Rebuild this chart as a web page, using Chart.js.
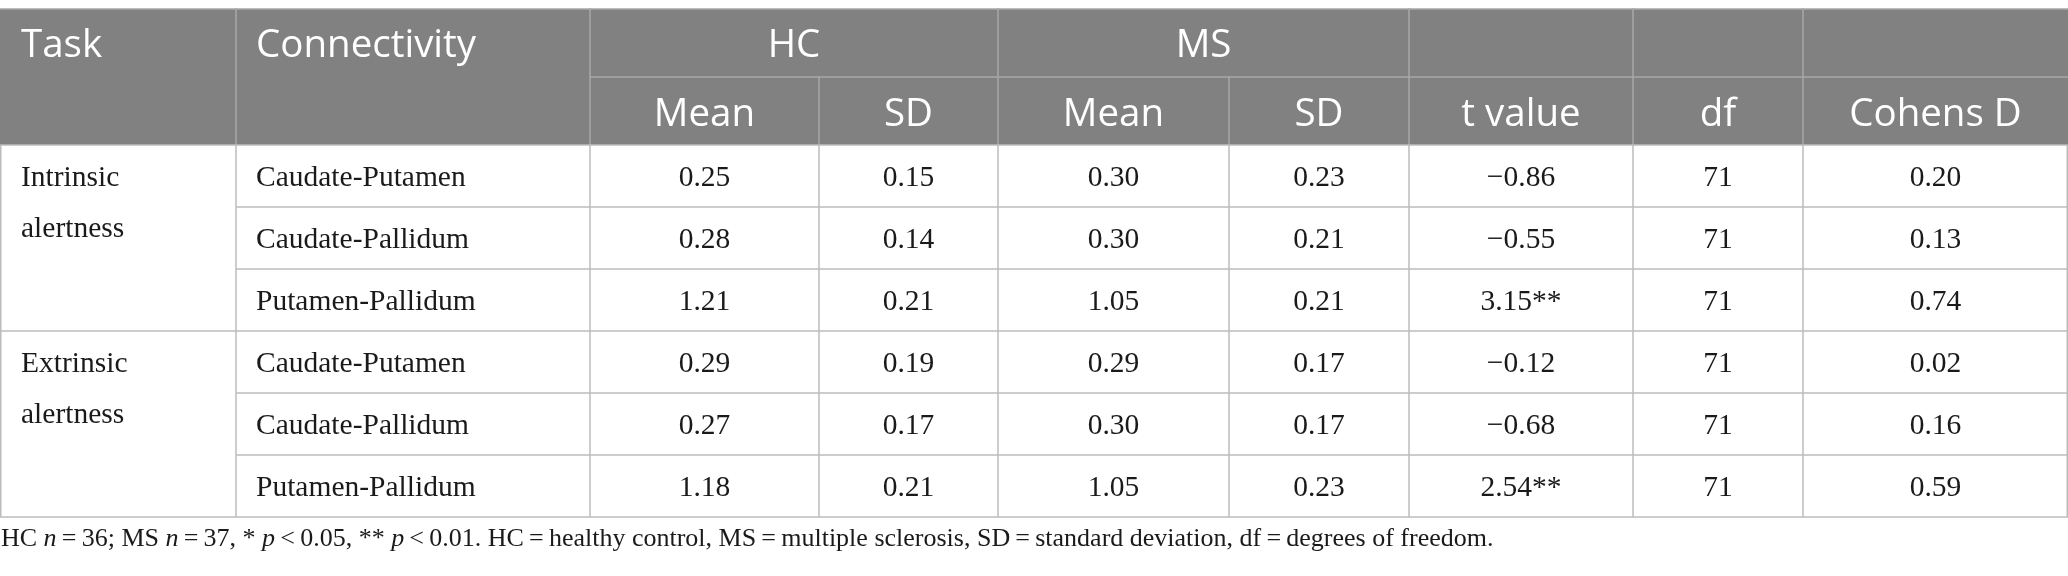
<!DOCTYPE html>
<html>
<head>
<meta charset="utf-8">
<script src="https://cdn.jsdelivr.net/npm/chart.js@4.4.1/dist/chart.umd.min.js"></script>
<style>
html,body{margin:0;padding:0;background:#ffffff;}
#wrap{width:2068px;height:576px;position:relative;overflow:hidden;}
</style>
</head>
<body>
<div id="wrap"><canvas id="c" width="2068" height="576"></canvas></div>
<script>
// ---------------- DATA ----------------
const tasks = [["Intrinsic", "alertness"], ["Extrinsic", "alertness"]];
const taskRowStart = [0, 3];
const connectivity = ["Caudate-Putamen", "Caudate-Pallidum", "Putamen-Pallidum",
                      "Caudate-Putamen", "Caudate-Pallidum", "Putamen-Pallidum"];
const hcMean  = [0.25, 0.28, 1.21, 0.29, 0.27, 1.18];
const hcSD    = [0.15, 0.14, 0.21, 0.19, 0.17, 0.21];
const msMean  = [0.30, 0.30, 1.05, 0.29, 0.30, 1.05];
const msSD    = [0.23, 0.21, 0.21, 0.17, 0.17, 0.23];
const tValue  = [-0.86, -0.55, 3.15, -0.12, -0.68, 2.54];
const tSig    = ["", "", "**", "", "", "**"];
const dfVals  = [71, 71, 71, 71, 71, 71];
const cohensD = [0.20, 0.13, 0.74, 0.02, 0.16, 0.59];
const headerTop = ["Task", "Connectivity"];
const groupHeaders = ["HC", "MS"];
const subHeaders = ["Mean", "SD", "Mean", "SD", "t value", "df", "Cohens D"];
const footnoteParts = [
  ["HC ", false], ["n", true], ["\u2009=\u200936; MS ", false], ["n", true],
  ["\u2009=\u200937, * ", false], ["p", true], ["\u2009<\u20090.05, ** ", false], ["p", true],
  ["\u2009<\u20090.01. HC\u2009=\u2009healthy control, MS\u2009=\u2009multiple sclerosis, SD\u2009=\u2009standard deviation, df\u2009=\u2009degrees of freedom.", false]
];

// ---------------- LAYOUT / STYLE ----------------
const W = 2068, H = 576;
const colEdges = [0, 236, 590, 819, 998, 1229, 1409, 1633, 1803, 2068];
const rowEdges = [8, 77, 145, 207, 269, 331, 393, 455, 517];
const textPadLeft = 21;
const taskLineGap = 51;
const footY = 539;
const headTextShift = 4;
const cellTextShift = 2;
const headerBg = "#808180";
const headerLine = "#a8a9a8";
const gridLine = "#bcbcbc";
const headFont = "38.5px 'Open Sans', 'Noto Sans', sans-serif";
const cellFont = "29.5px 'Liberation Serif', 'DejaVu Serif', serif";
const footFont = "26px 'Liberation Serif', serif";
const footFontIt = "italic 26px 'Liberation Serif', serif";

const colCenter = c => (colEdges[c] + colEdges[c + 1]) / 2;
const rowCenter = r => (rowEdges[r + 2] + rowEdges[r + 3]) / 2 + cellTextShift;
const fmt = v => (v < 0 ? "\u2212" : "") + Math.abs(v).toFixed(2);

function cellData(values, col, formatter) {
  return values.map((v, r) => ({ x: colCenter(col), y: rowCenter(r), label: formatter(v, r) }));
}

const datasets = [
  { label: "Connectivity", align: "left",
    data: connectivity.map((v, r) => ({ x: colEdges[1] + 20, y: rowCenter(r), label: v })) },
  { label: "HC Mean", align: "center", data: cellData(hcMean, 2, v => fmt(v)) },
  { label: "HC SD", align: "center", data: cellData(hcSD, 3, v => fmt(v)) },
  { label: "MS Mean", align: "center", data: cellData(msMean, 4, v => fmt(v)) },
  { label: "MS SD", align: "center", data: cellData(msSD, 5, v => fmt(v)) },
  { label: "t value", align: "center", data: cellData(tValue, 6, (v, r) => fmt(v) + tSig[r]) },
  { label: "df", align: "center", data: cellData(dfVals, 7, v => String(v)) },
  { label: "Cohens D", align: "center", data: cellData(cohensD, 8, v => fmt(v)) }
].map(d => Object.assign(d, { pointRadius: 0, pointHoverRadius: 0, showLine: false }));

const tablePlugin = {
  id: "tablePlugin",
  beforeDatasetsDraw(chart) {
    const ctx = chart.ctx, xs = chart.scales.x, ys = chart.scales.y;
    const X = v => xs.getPixelForValue(v), Y = v => ys.getPixelForValue(v);
    ctx.save();
    ctx.fillStyle = headerBg;
    ctx.fillRect(X(0), Y(rowEdges[0]), X(W) - X(0), Y(rowEdges[2]) - Y(rowEdges[0]));
    const line = (x1, y1, x2, y2, color) => {
      ctx.strokeStyle = color; ctx.lineWidth = 1.5;
      ctx.beginPath(); ctx.moveTo(X(x1), Y(y1)); ctx.lineTo(X(x2), Y(y2)); ctx.stroke();
    };
    line(0, rowEdges[0] + 0.75, W, rowEdges[0] + 0.75, gridLine);
    [1, 2, 4, 6, 7, 8].forEach(c => line(colEdges[c], rowEdges[0], colEdges[c], rowEdges[2], headerLine));
    [3, 5].forEach(c => line(colEdges[c], rowEdges[1], colEdges[c], rowEdges[2], headerLine));
    line(colEdges[2], rowEdges[1], W, rowEdges[1], headerLine);
    for (let i = 2; i < rowEdges.length; i++) {
      const r = i - 2;
      const full = (r === 0 || taskRowStart.includes(r) || i === rowEdges.length - 1);
      line(full ? 0 : colEdges[1], rowEdges[i], W, rowEdges[i], gridLine);
    }
    for (let c = 0; c < colEdges.length; c++) {
      const xv = c === 0 ? 0.75 : (c === colEdges.length - 1 ? W - 0.75 : colEdges[c]);
      line(xv, rowEdges[2], xv, rowEdges[rowEdges.length - 1], gridLine);
    }
    ctx.fillStyle = "#ffffff"; ctx.font = headFont; ctx.textBaseline = "middle";
    const hy = (rowEdges[0] + rowEdges[1]) / 2 + headTextShift;
    ctx.textAlign = "left";
    ctx.fillText(headerTop[0], X(textPadLeft), Y(hy));
    ctx.fillText(headerTop[1], X(colEdges[1] + 20), Y(hy));
    ctx.textAlign = "center";
    ctx.fillText(groupHeaders[0], X((colEdges[2] + colEdges[4]) / 2), Y(hy));
    ctx.fillText(groupHeaders[1], X((colEdges[4] + colEdges[6]) / 2), Y(hy));
    const sy = (rowEdges[1] + rowEdges[2]) / 2 + headTextShift;
    subHeaders.forEach((s, i) => ctx.fillText(s, X(colCenter(i + 2)), Y(sy)));
    ctx.restore();
  },
  afterDatasetsDraw(chart) {
    const ctx = chart.ctx, xs = chart.scales.x, ys = chart.scales.y;
    const X = v => xs.getPixelForValue(v), Y = v => ys.getPixelForValue(v);
    ctx.save();
    ctx.fillStyle = "#1a1a1a"; ctx.font = cellFont; ctx.textBaseline = "middle";
    chart.data.datasets.forEach((ds, di) => {
      const meta = chart.getDatasetMeta(di);
      ctx.textAlign = ds.align;
      meta.data.forEach((el, i) => ctx.fillText(ds.data[i].label, el.x, el.y));
    });
    ctx.textAlign = "left";
    tasks.forEach((t, k) => {
      const r = taskRowStart[k];
      t.forEach((ln, j) => ctx.fillText(ln, X(textPadLeft), Y(rowCenter(r) + j * taskLineGap)));
    });
    let fx = X(1);
    footnoteParts.forEach(([txt, it]) => {
      ctx.font = it ? footFontIt : footFont;
      ctx.fillText(txt, fx, Y(footY));
      fx += ctx.measureText(txt).width;
    });
    ctx.restore();
  }
};

new Chart(document.getElementById("c"), {
  type: "scatter",
  data: { datasets },
  options: {
    responsive: false,
    animation: false,
    events: [],
    layout: { padding: 0 },
    plugins: { legend: { display: false }, tooltip: { enabled: false } },
    scales: {
      x: { type: "linear", min: 0, max: W, display: false },
      y: { type: "linear", min: 0, max: H, reverse: true, display: false }
    }
  },
  plugins: [tablePlugin]
});
</script>
</body>
</html>
